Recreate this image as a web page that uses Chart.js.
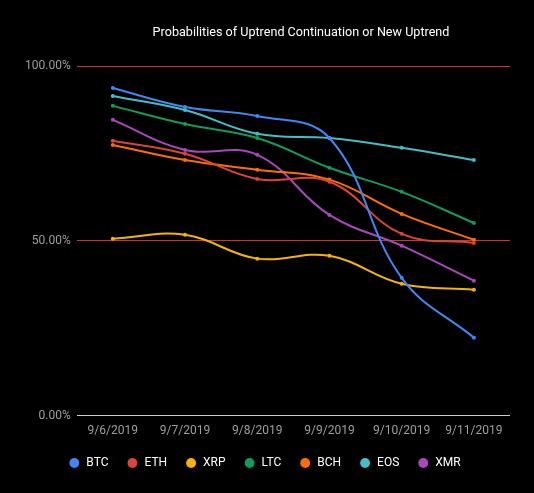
<!DOCTYPE html>
<html>
<head>
<meta charset="utf-8">
<script src="https://cdn.jsdelivr.net/npm/chart.js@4/dist/chart.umd.min.js"></script>
<style>
  body { margin: 0; background: #000; }
  #wrap { width: 534px; height: 493px; }
</style>
</head>
<body>
<div id="wrap"><canvas id="chart1" width="534" height="493"></canvas></div>
<script>
var dates = ["9/6/2019", "9/7/2019", "9/8/2019", "9/9/2019", "9/10/2019", "9/11/2019"];
var coins = ["BTC", "ETH", "XRP", "LTC", "BCH", "EOS", "XMR"];
var colors = ["#4285F4", "#DB4437", "#F4B400", "#0F9D58", "#FF6D00", "#46BDC6", "#AB47BC"];

// values in fraction (0..1)
var btc = [0.937, 0.883, 0.857, 0.794, 0.394, 0.223];
var eth = [0.786, 0.749, 0.677, 0.669, 0.520, 0.494];
var xrp = [0.506, 0.517, 0.449, 0.457, 0.377, 0.360];
var ltc = [0.886, 0.834, 0.794, 0.709, 0.640, 0.551];
var bch = [0.774, 0.731, 0.703, 0.675, 0.577, 0.503];
var eos = [0.914, 0.874, 0.806, 0.794, 0.766, 0.731];
var xmr = [0.846, 0.760, 0.746, 0.574, 0.486, 0.386];
var yTicks = [0, 0.5, 1];

var series = [btc, eth, xrp, ltc, bch, eos, xmr];

var datasets = coins.map((c, i) => ({
  label: c,
  data: series[i],
  borderColor: colors[i],
  backgroundColor: colors[i],
  borderWidth: 2,
  pointRadius: 2,
  pointBorderWidth: 0,
  pointHoverRadius: 3,
  tension: 0.4,
  fill: false,
}));

// title drawn a little right of center like the original
var titlePlugin = {
  id: "myTitle",
  afterDraw(chart) {
    var ctx = chart.ctx;
    ctx.save();
    ctx.fillStyle = "#ffffff";
    ctx.font = "12.6px Roboto";
    ctx.textAlign = "center";
    ctx.textBaseline = "middle";
    ctx.fillText("Probabilities of Uptrend Continuation or New Uptrend", 301, 33);
    ctx.restore();
  },
};

var ctx = document.getElementById("chart1").getContext("2d");
var myChart = new Chart(ctx, {
  type: "line",
  data: { labels: dates, datasets: datasets },
  plugins: [titlePlugin],
  options: {
    responsive: false,
    animation: false,
    layout: { padding: { top: 66, right: 24, left: 19, bottom: 14 } },
    plugins: {
      title: { display: false },
      tooltip: { enabled: false },
      legend: {
        position: "bottom",
        labels: {
          color: "#ffffff",
          font: { family: "Roboto", size: 12 },
          usePointStyle: true,
          pointStyle: "circle",
          boxWidth: 12,
          boxHeight: 7,
          padding: 18,
        },
      },
    },
    scales: {
      x: {
        offset: true,
        grid: { display: false },
        border: { display: false },
        ticks: { color: "#9e9e9e", font: { family: "Roboto", size: 12 }, maxRotation: 0, padding: 0 },
        afterFit: (axis) => { axis.height += 1; },
      },
      y: {
        min: 0,
        max: 1,
        afterBuildTicks: (axis) => { axis.ticks = yTicks.map((v) => ({ value: v })); },
        border: { display: false },
        grid: {
          drawTicks: false,
          color: (c) => (c.index === 0 ? "#cccccc" : "#d32f2f"),
          lineWidth: 1,
        },
        ticks: {
          color: "#9e9e9e",
          font: { family: "Roboto", size: 12 },
          padding: 6,
          callback: (v) => (v * 100).toFixed(2) + "%",
        },
      },
    },
  },
});
</script>
</body>
</html>
